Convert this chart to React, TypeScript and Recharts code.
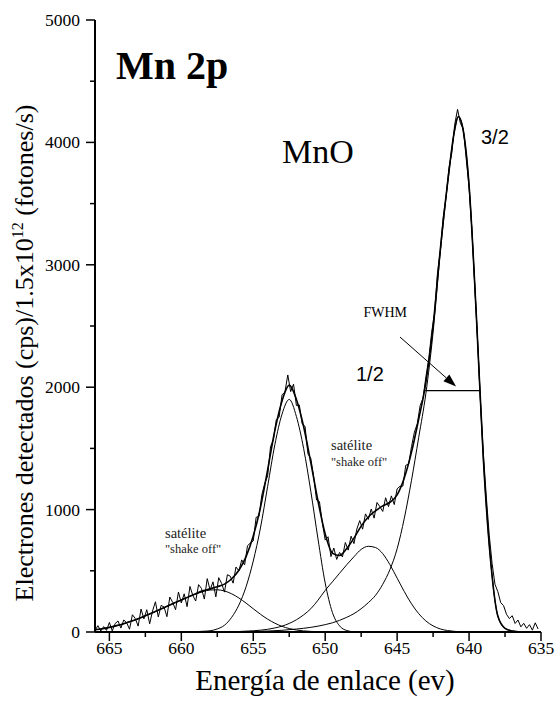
import React from "react";
import { LineChart, Line, XAxis, YAxis, ReferenceLine, Label } from "recharts";

const serif = '"Liberation Serif", "Times New Roman", serif';
const sans = '"Liberation Sans", Arial, sans-serif';

// espectro medido: [energía de enlace (eV), cuentas]
const medidos: [number, number][] = [
  [666.0, 12], [665.8, 52], [665.6, 8], [665.4, 44], [665.2, 13], [665.0, 78], [664.8, 9], [664.6, 69], [664.4, 90], [664.2, 32],
  [664.0, 98], [663.8, 76], [663.6, 23], [663.4, 141], [663.2, 110], [663.0, 48], [662.8, 188], [662.6, 107], [662.4, 182], [662.2, 67],
  [662.0, 172], [661.8, 247], [661.6, 123], [661.4, 218], [661.2, 204], [661.0, 125], [660.8, 286], [660.6, 242], [660.4, 182], [660.2, 327],
  [660.0, 237], [659.8, 312], [659.6, 207], [659.4, 372], [659.2, 298], [659.0, 253], [658.8, 387], [658.6, 356], [658.4, 269], [658.2, 436],
  [658.0, 343], [657.8, 410], [657.6, 287], [657.4, 444], [657.2, 397], [657.0, 326], [656.8, 468], [656.6, 456], [656.4, 399], [656.2, 531],
  [656.0, 499], [655.8, 589], [655.6, 549], [655.4, 705], [655.2, 727], [655.0, 744], [654.8, 937], [654.6, 945], [654.4, 1123], [654.2, 1215],
  [654.0, 1275], [653.8, 1515], [653.6, 1570], [653.4, 1735], [653.2, 1755], [653.0, 1938], [652.8, 1960], [652.6, 2100], [652.4, 1964], [652.2, 2025],
  [652.0, 1850], [651.8, 1855], [651.6, 1700], [651.4, 1680], [651.2, 1455], [651.0, 1418], [650.8, 1268], [650.6, 1078], [650.4, 1066], [650.2, 893],
  [650.0, 751], [649.8, 778], [649.6, 616], [649.4, 686], [649.2, 593], [649.0, 650], [648.8, 613], [648.6, 731], [648.4, 669], [648.2, 783],
  [648.0, 722], [647.8, 841], [647.6, 910], [647.4, 840], [647.2, 965], [647.0, 920], [646.8, 1005], [646.6, 930], [646.4, 1058], [646.2, 1024],
  [646.0, 985], [645.8, 1097], [645.6, 1024], [645.4, 1112], [645.2, 1041], [645.0, 1170], [644.8, 1191], [644.6, 1192], [644.4, 1362], [644.2, 1371],
  [644.0, 1515], [643.8, 1633], [643.6, 1701], [643.4, 1850], [643.2, 1910], [643.0, 2085], [642.8, 2234], [642.6, 2448], [642.4, 2605], [642.2, 2925],
  [642.0, 3115], [641.8, 3385], [641.6, 3560], [641.4, 3790], [641.2, 3913], [641.0, 4145], [640.8, 4270], [640.6, 4155], [640.4, 4112], [640.2, 3870],
  [640.0, 3630], [639.8, 3280], [639.6, 2820], [639.4, 2360], [639.2, 1865], [639.0, 1445], [638.8, 1102], [638.6, 794], [638.4, 560], [638.2, 390],
  [638.0, 330], [637.8, 240], [637.6, 215], [637.4, 145], [637.2, 110], [637.0, 133], [636.8, 70], [636.6, 98], [636.4, 42], [636.2, 71],
  [636.0, 30], [635.8, 60], [635.6, 15], [635.4, 75], [635.2, 25],
];

// ajuste total
const envolvente: [number, number][] = [
  [666, 18], [665.5, 27], [665, 38], [664.5, 52], [664, 68], [663.5, 87], [663, 108], [662.5, 132], [662, 157], [661.5, 183],
  [661, 210], [660.5, 237], [660, 262], [659.5, 287], [659, 313], [658.5, 336], [658, 353], [657.5, 370], [657, 391], [656.5, 435],
  [656, 504], [655.5, 616], [655, 784], [654.5, 1016], [654, 1325], [653.5, 1646], [653, 1888], [652.5, 2017], [652, 1900], [651.5, 1679],
  [651, 1383], [650.5, 1070], [650, 801], [649.5, 645], [649, 625], [648.5, 682], [648, 767], [647.5, 865], [647, 940], [646.5, 990],
  [646, 1030], [645.5, 1060], [645, 1120], [644.5, 1260], [644, 1470], [643.5, 1740], [643, 2040], [642.5, 2500], [642, 3125], [641.5, 3662],
  [641, 4105], [640.75, 4212], [640.5, 4152], [640, 3650], [639.5, 2600], [639, 1400], [638.5, 580], [638, 130], [637.5, 30], [637, 8],
  [636.5, 2], [636, 0], [635, 0],
];

// componentes
const pico32: [number, number][] = [
  [657, 1], [656, 2], [655, 4], [654, 8], [653, 14], [652, 24], [651, 38], [650, 60], [649.5, 75], [649, 95],
  [648.5, 120], [648, 150], [647.5, 190], [647, 240], [646.5, 300], [646, 390], [645.5, 510], [645, 680], [644.5, 930], [644, 1240],
  [643.5, 1590], [643, 1950], [642.5, 2450], [642, 3100], [641.5, 3650], [641, 4100], [640.75, 4210], [640.5, 4150], [640, 3650], [639.5, 2600],
  [639, 1400], [638.5, 580], [638, 130], [637.5, 30], [637, 8], [636.5, 2], [636, 0], [635, 0],
];
const pico12: [number, number][] = [
  [661, 0], [659, 3], [658.5, 6], [658, 10], [657.5, 25], [657, 55], [656.5, 120], [656, 220], [655.5, 370], [655, 580],
  [654.5, 850], [654, 1190], [653.5, 1530], [653, 1780], [652.5, 1900], [652, 1760], [651.5, 1500], [651, 1150], [650.5, 760], [650, 400],
  [649.5, 160], [649, 50], [648.5, 12], [648, 2], [647, 0], [645, 0],
];
const satelite1: [number, number][] = [
  [666, 18], [665.5, 27], [665, 38], [664.5, 52], [664, 68], [663.5, 87], [663, 108], [662.5, 132], [662, 157], [661.5, 183],
  [661, 210], [660.5, 237], [660, 262], [659.5, 287], [659, 310], [658.5, 330], [658, 343], [657.5, 345], [657, 335], [656.5, 312],
  [656, 278], [655.5, 236], [655, 190], [654.5, 145], [654, 105], [653.5, 72], [653, 46], [652.5, 28], [652, 16], [651.5, 9],
  [651, 5], [650.5, 2], [650, 1], [649, 0], [647, 0],
];
const satelite2: [number, number][] = [
  [658, 0], [657, 1], [656, 4], [655, 10], [654, 22], [653.5, 33], [653, 48], [652.5, 70], [652, 100], [651.5, 140],
  [651, 190], [650.5, 260], [650, 340], [649.5, 410], [649, 480], [648.5, 550], [648, 615], [647.5, 675], [647, 700], [646.5, 690],
  [646, 640], [645.5, 550], [645, 440], [644.5, 330], [644, 230], [643.5, 150], [643, 90], [642.5, 50], [642, 25], [641.5, 12],
  [641, 5], [640.5, 2], [640, 0], [638, 0],
];

const xTicks = [665, 662.5, 660, 657.5, 655, 652.5, 650, 647.5, 645, 642.5, 640, 637.5, 635];
const yTicks = [0, 500, 1000, 1500, 2000, 2500, 3000, 3500, 4000, 4500, 5000];

// anotaciones en coordenadas de datos
const fwhm = { desde: 643.05, hasta: 639.25, nivel: 1972 };
const flecha = { e0: 644.8, v0: 2410, e1: 640.9, v1: 2005 };

const rows = (pts: [number, number][]) => pts.map(([e, v]) => ({ e, v }));

function BottomTick({ x, y, payload }: any) {
  const major = payload.value % 5 === 0;
  return (
    <g>
      <line x1={x} x2={x} y1={y} y2={y + (major ? 9 : 5)} stroke="#000" strokeWidth={1.5} />
      {major && (
        <text x={x} y={y + 22} textAnchor="middle" fontSize={17.5} fontFamily={serif} fill="#000">
          {payload.value}
        </text>
      )}
    </g>
  );
}

function LeftTick({ x, y, payload }: any) {
  const major = payload.value % 1000 === 0;
  return (
    <g>
      <line x1={x - (major ? 9 : 5)} x2={x} y1={y} y2={y} stroke="#000" strokeWidth={1.5} />
      {major && (
        <text x={x - 15} y={y + 6} textAnchor="end" fontSize={17.5} fontFamily={serif} fill="#000">
          {payload.value}
        </text>
      )}
    </g>
  );
}

function RightTick({ x, y }: any) {
  return <line x1={x - 4} x2={x} y1={y} y2={y} stroke="#000" strokeWidth={1.5} />;
}

function Arrow({ x1, y1, x2, y2 }: any) {
  const a = Math.atan2(y2 - y1, x2 - x1);
  const L = 13;
  const W = 4.5;
  const bx = x2 - L * Math.cos(a);
  const by = y2 - L * Math.sin(a);
  const px = -Math.sin(a) * W;
  const py = Math.cos(a) * W;
  return (
    <g>
      <line x1={x1} y1={y1} x2={bx} y2={by} stroke="#000" strokeWidth={1} />
      <polygon points={`${x2},${y2} ${bx + px},${by + py} ${bx - px},${by - py}`} fill="#000" />
    </g>
  );
}

function XTitle({ viewBox }: any) {
  return (
    <text x={viewBox.x + viewBox.width / 2 + 7} y={viewBox.y + 58} textAnchor="middle" fontSize={29} fontFamily={serif} fill="#000">
      Energía de enlace (ev)
    </text>
  );
}

function YTitle({ viewBox }: any) {
  const cx = viewBox.x + 33;
  const cy = viewBox.y + viewBox.height / 2 + 27;
  return (
    <text x={cx} y={cy} transform={`rotate(-90, ${cx}, ${cy})`} textAnchor="middle" fontSize={26} fontFamily={serif} fill="#000">
      Electrones detectados (cps)/1.5x10
      <tspan dy={-10} fontSize={16}>12</tspan>
      <tspan dy={10}> (fotones/s)</tspan>
    </text>
  );
}

export default function App() {
  const line = { xAxisId: "b", yAxisId: "l", dataKey: "v", dot: false, isAnimationActive: false, stroke: "#000" };
  return (
    <div style={{ position: "absolute", left: 0, top: 0, width: 556, height: 704, background: "#fff" }}>
      <LineChart width={556} height={704} margin={{ top: 20, right: 15, bottom: 0, left: 0 }}>
        <XAxis
          xAxisId="b"
          type="number"
          dataKey="e"
          domain={[635, 666]}
          reversed
          allowDataOverflow
          ticks={xTicks}
          interval={0}
          height={72}
          tickSize={0}
          tickMargin={0}
          tick={(p: any) => <BottomTick {...p} />}
          axisLine={{ stroke: "#000", strokeWidth: 2 }}
        >
          <Label content={(p: any) => <XTitle {...p} />} />
        </XAxis>
        <XAxis
          xAxisId="t"
          orientation="top"
          type="number"
          dataKey="e"
          domain={[635, 666]}
          reversed
          allowDataOverflow
          height={0}
          tick={false}
          tickLine={false}
          axisLine={{ stroke: "#000", strokeWidth: 2 }}
        />
        <YAxis
          yAxisId="l"
          type="number"
          domain={[0, 5000]}
          allowDataOverflow
          ticks={yTicks}
          interval={0}
          width={95}
          tickSize={0}
          tickMargin={0}
          tick={(p: any) => <LeftTick {...p} />}
          axisLine={{ stroke: "#000", strokeWidth: 2 }}
        >
          <Label content={(p: any) => <YTitle {...p} />} />
        </YAxis>
        <YAxis
          yAxisId="r"
          orientation="right"
          type="number"
          domain={[0, 5000]}
          allowDataOverflow
          ticks={yTicks}
          interval={0}
          width={0}
          tickSize={0}
          tickMargin={0}
          tick={(p: any) => <RightTick {...p} />}
          axisLine={{ stroke: "#000", strokeWidth: 2 }}
        />

        <Line {...line} data={rows(satelite1)} type="monotone" strokeWidth={1} />
        <Line {...line} data={rows(satelite2)} type="monotone" strokeWidth={1} />
        <Line {...line} data={rows(pico12)} type="monotone" strokeWidth={1} />
        <Line {...line} data={rows(pico32)} type="monotone" strokeWidth={1} />
        <Line {...line} data={rows(envolvente)} type="monotone" strokeWidth={1.6} />
        <Line {...line} data={rows(medidos)} type="linear" strokeWidth={1} />

        <ReferenceLine
          xAxisId="b"
          yAxisId="l"
          segment={[{ x: fwhm.desde, y: fwhm.nivel }, { x: fwhm.hasta, y: fwhm.nivel }]}
          stroke="#000"
          strokeWidth={1.2}
          ifOverflow="visible"
        />
        <ReferenceLine
          xAxisId="b"
          yAxisId="l"
          segment={[{ x: flecha.e0, y: flecha.v0 }, { x: flecha.e1, y: flecha.v1 }]}
          ifOverflow="visible"
          shape={(p: any) => <Arrow {...p} />}
        />
      </LineChart>

      <svg width={556} height={704} style={{ position: "absolute", left: 0, top: 0, pointerEvents: "none" }}>
        <text x={116} y={79} fontSize={40} fontWeight="bold" fontFamily={serif} fill="#000">Mn 2p</text>
        <text x={282} y={163} fontSize={34} fontFamily={serif} fill="#000">MnO</text>
        <text x={481} y={144} fontSize={20} fontFamily={sans} fill="#000">3/2</text>
        <text x={356} y={381} fontSize={20} fontFamily={sans} fill="#000">1/2</text>
        <text x={407} y={317} fontSize={14} textAnchor="end" fontFamily={serif} fill="#000">FWHM</text>
        <text x={165} y={538} fontSize={14.5} fontFamily={serif} fill="#222">satélite</text>
        <text x={165} y={553} fontSize={12.5} fontFamily={serif} fill="#222">"shake off"</text>
        <text x={331} y={450} fontSize={14.5} fontFamily={serif} fill="#222">satélite</text>
        <text x={331} y={466} fontSize={12.5} fontFamily={serif} fill="#222">"shake off"</text>
      </svg>
    </div>
  );
}
